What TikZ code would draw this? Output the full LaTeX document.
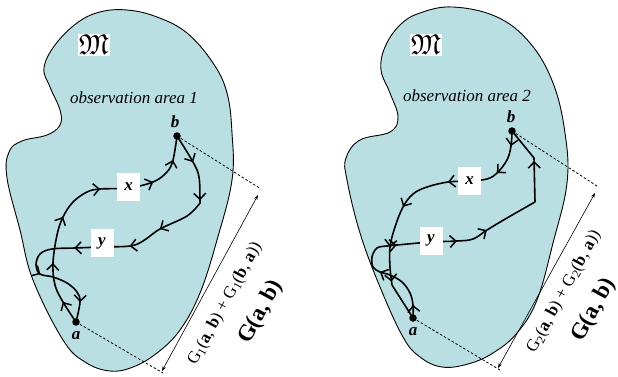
\documentclass[tikz,border=0pt]{standalone}
\usepackage{amssymb}
\usepackage{fontspec}
\setmainfont{Liberation Serif}
\usetikzlibrary{arrows.meta,decorations.markings}
\definecolor{blobfill}{RGB}{186,223,227}
\tikzset{
  route/.style={line width=1.6pt, line join=round},
  ar/.style={postaction={decorate,decoration={markings,mark=at position #1 with {\arrow{Straight Barb[length=6pt,width=12pt,line width=1.5pt]}}}}},
  dot/.style={circle,fill=black,inner sep=0pt,minimum size=7.5pt},
  lbl/.style={font=\fontsize{17}{20}\selectfont\bfseries\itshape,inner sep=0pt},
  box/.style={fill=white,inner sep=0pt,minimum width=23pt,minimum height=28pt,font=\fontsize{17}{20}\selectfont\bfseries\itshape},
  frak/.style={fill=white,inner sep=1pt,font=\fontsize{24.88}{28}\selectfont},
  area/.style={font=\fontsize{17}{20}\selectfont\itshape},
  dim/.style={line width=0.6pt,{Stealth[length=5pt,width=3.5pt]}-{Stealth[length=5pt,width=3.5pt]}},
  ext/.style={line width=0.8pt,dash pattern=on 2.5pt off 2pt},
  region/.style={draw=black,line width=0.9pt,fill=blobfill},
  sumlbl/.style={font=\fontsize{17}{19}\selectfont,rotate=61.4,inner sep=0pt},
  glbl/.style={font=\fontsize{23}{26}\selectfont\bfseries,rotate=61.4,inner sep=0pt},
}
\begin{document}
\begin{tikzpicture}[x=1pt,y=-1pt]
\useasboundingbox (0,0) rectangle (618,377);
% ---------- regions ----------
\path[region] plot[smooth cycle, tension=0.65] coordinates {
 (100,12) (127,10) (157,17) (187,33) (213,63) (227,93) (232,133) (232,180)
 (217,240) (200,293) (180,330) (157,353) (133,367) (110,371) (85,362) (63,340)
 (33,280) (20,230) (7,178) (9,152) (22,141) (47,135) (60,125) (60,110) (50,87)
 (44,68) (55,45) (77,23)};
\path[region] plot[smooth cycle, tension=0.65] coordinates {
 (420,13) (453,7) (497,17) (530,43) (553,83) (565,133) (567,183)
 (553,243) (537,300) (517,333) (493,353) (468,364) (442,367) (420,357) (403,337)
 (380,287) (360,233) (347,180) (346,158) (360,140) (390,132) (398,117) (390,93)
 (381,70) (385,47) (400,25)};
% ---------- left panel ----------
\node[frak] (M1) at (94,45) {\scalebox{1.15}{$\mathfrak{M}$}};
\node[area] (oa1) at (134,98) {observation area 1};
\node[dot] (b1) at (177,136) {};
\node[dot] (a1) at (76,322) {};
\node[lbl] (b1l) at (175,122) {b};
\node[lbl] (a1l) at (76,336) {a};
\coordinate (x1) at (128,188);
\coordinate (y1) at (102,247);
\coordinate (c1) at (200,203);
\draw[route, ar/.list={0.089,0.24,0.416,0.597,0.796,0.91}] plot[smooth, tension=0.6] coordinates {
 (a1.center) (63,302) (55,285) (53,263) (57,235) (63,217) (73,202) (87,192) (100,189)
 (x1) (153,182) (167,172) (173,160) (b1.center)};
\draw[route, ar/.list={0.42,0.96}] plot[smooth, tension=0.6] coordinates {
 (b1.center) (193,162) (199,177) (200,200) (c1)};
\draw[route, ar/.list={0.18,0.31,0.515,0.73,0.925}] plot[smooth, tension=0.6] coordinates {
 (c1) (187,216) (160,229) (143,241) (130,246) (y1) (75,248) (52,249) (40,254) (36,265)
 (40,274) (53,277) (67,283) (77,292) (80,302) (a1.center)};
\node[box] (xb1) at (128.5,186.5) {x};
\node[box] (yb1) at (102,243) {y};
\coordinate (d1a) at (163,373);
\coordinate (d1b) at (261,189);
\coordinate (e1a) at (162,371);
\coordinate (e1b) at (258,195);
\draw[ext] (a1.center) -- (d1a);
\draw[ext] (b1.center) -- (d1b);
\draw[dim] (e1a) -- (e1b);
\node[sumlbl] (s1) at (225,304) {G\textsubscript{1}(\textbf{a}, \textbf{b}) + G\textsubscript{1}(\textbf{b}, \textbf{a}))};
\node[glbl] (g1) at (261,312) {G(a, b)};
% ---------- right panel ----------
\node[frak] (M2) at (426,45) {\scalebox{1.15}{$\mathfrak{M}$}};
\node[area] (oa2) at (467,96) {observation area 2};
\node[dot] (b2) at (512,131) {};
\node[dot] (a2) at (413,318) {};
\node[lbl] (b2l) at (511,117) {b};
\node[lbl] (a2l) at (413,332) {a};
\coordinate (x2) at (469,181);
\coordinate (y2) at (431,242);
\coordinate (c2) at (392,285);
\coordinate (c3) at (535,202);
\coordinate (c4) at (534,158);
\draw[route, ar/.list={0.065,0.2,0.42,0.652,0.835,0.985}] plot[smooth, tension=0.6] coordinates {
 (b2.center) (511,146) (507,160) (497,173) (487,179) (x2) (448,182) (427,187) (413,194)
 (403,207) (395,227) (390,247) (390,267) (c2)};
\draw[route] (c2) -- (a2.center);
\draw[route, ar/.list={0.05,0.243,0.431,0.662,0.787}] plot[smooth, tension=0.6] coordinates {
 (a2.center) (413,305) (410,293) (402,282) (390,275) (380,272) (373,267) (372,257)
 (377,248) (387,246) (397,245) (y2) (457,241) (473,239) (487,230) (507,218) (c3)};
\draw[route, ar=0.52] (c3) -- (c4) -- (b2.center);
\node[box] (xb2) at (469.5,181) {x};
\node[box] (yb2) at (431,240.5) {y};
\coordinate (d2a) at (500,370);
\coordinate (d2b) at (597,186);
\coordinate (e2a) at (498,368);
\coordinate (e2b) at (595,193);
\draw[ext] (a2.center) -- (d2a);
\draw[ext] (b2.center) -- (d2b);
\draw[dim] (e2a) -- (e2b);
\node[sumlbl] (s2) at (564,292) {G\textsubscript{2}(\textbf{a}, \textbf{b}) + G\textsubscript{2}(\textbf{b}, \textbf{a}))};
\node[glbl] (g2) at (594,310) {G(a, b)};
\end{tikzpicture}
\end{document}
